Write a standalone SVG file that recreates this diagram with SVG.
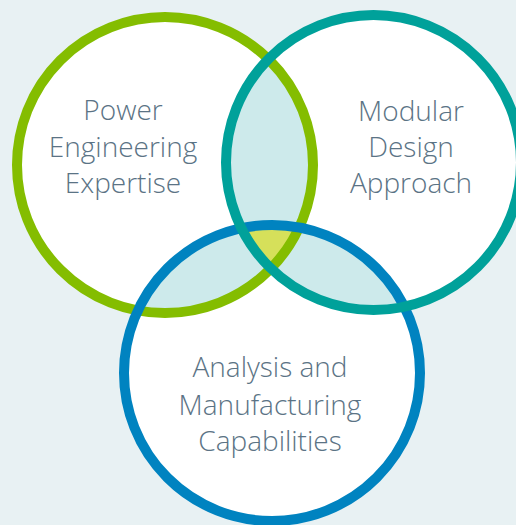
<svg xmlns="http://www.w3.org/2000/svg" width="516" height="525" viewBox="0 0 516 525">
<style>
.ring{fill:none;stroke-width:10}
.lbl{font-family:"Open Sans","Noto Sans","Liberation Sans",sans-serif;font-size:28px;font-weight:350;fill:#5b7385;text-anchor:middle}
</style>
<defs>
<clipPath id="cG"><circle cx="165" cy="165" r="148"/></clipPath>
<clipPath id="cT"><circle cx="373.5" cy="162.5" r="147.5"/></clipPath>
</defs>
<rect width="516" height="525" fill="#e8f1f3"/>
<g id="fills">
<circle cx="165" cy="165" r="148" fill="#fff"/>
<circle cx="373.5" cy="162.5" r="147.5" fill="#fff"/>
<circle cx="272" cy="373" r="148" fill="#fff"/>
<circle cx="373.5" cy="162.5" r="147.5" fill="#cdeaeb" clip-path="url(#cG)"/>
<circle cx="272" cy="373" r="148" fill="#cdeaeb" clip-path="url(#cG)"/>
<circle cx="272" cy="373" r="148" fill="#cdeaeb" clip-path="url(#cT)"/>
<g clip-path="url(#cG)"><circle cx="272" cy="373" r="148" fill="#d6e05a" clip-path="url(#cT)"/></g>
</g>
<g id="power">
<circle class="ring" cx="165" cy="165" r="148" stroke="#84bd00"/>
<text class="lbl" x="123" y="120">Power</text>
<text class="lbl" x="123" y="157">Engineering</text>
<text class="lbl" x="123" y="193">Expertise</text>
</g>
<g id="analysis">
<circle class="ring" cx="272" cy="373" r="148" stroke="#0083c0"/>
<text class="lbl" x="270" y="377">Analysis and</text>
<text class="lbl" x="270" y="415">Manufacturing</text>
<text class="lbl" x="270" y="451">Capabilities</text>
</g>
<g id="modular">
<circle class="ring" cx="373.5" cy="162.5" r="147.5" stroke="#00a19a"/>
<text class="lbl" x="411" y="121">Modular</text>
<text class="lbl" x="411" y="157">Design</text>
<text class="lbl" x="411" y="193">Approach</text>
</g>
</svg>
